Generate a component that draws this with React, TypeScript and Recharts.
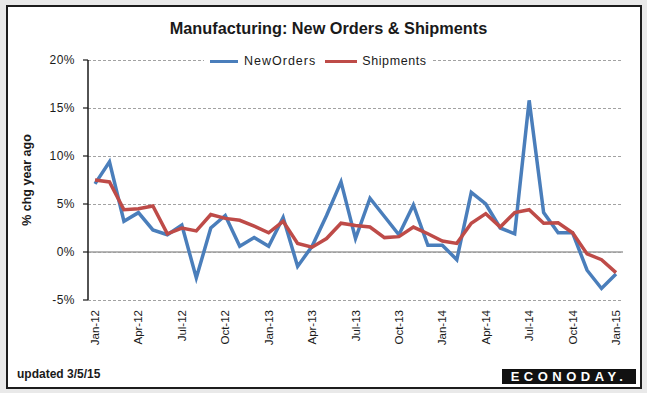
import React from "react";
import { LineChart, Line, XAxis, YAxis, CartesianGrid, ReferenceLine } from "recharts";

const months = [
  "Jan-12","Feb-12","Mar-12","Apr-12","May-12","Jun-12","Jul-12","Aug-12","Sep-12","Oct-12","Nov-12","Dec-12",
  "Jan-13","Feb-13","Mar-13","Apr-13","May-13","Jun-13","Jul-13","Aug-13","Sep-13","Oct-13","Nov-13","Dec-13",
  "Jan-14","Feb-14","Mar-14","Apr-14","May-14","Jun-14","Jul-14","Aug-14","Sep-14","Oct-14","Nov-14","Dec-14",
  "Jan-15",
];

const newOrders = [
  7.1, 9.4, 3.2, 4.1, 2.3, 1.8, 2.8, -2.7, 2.5, 3.8, 0.6, 1.5,
  0.6, 3.6, -1.5, 0.6, 3.8, 7.3, 1.4, 5.6, 3.7, 1.8, 4.9, 0.7,
  0.7, -0.8, 6.2, 5.0, 2.5, 1.9, 15.8, 4.1, 2.0, 2.0, -1.9, -3.8,
  -2.3,
];

const shipments = [
  7.5, 7.3, 4.4, 4.5, 4.8, 1.9, 2.5, 2.2, 3.9, 3.5, 3.3, 2.7,
  2.0, 3.2, 0.9, 0.5, 1.4, 3.0, 2.75, 2.6, 1.5, 1.6, 2.6, 1.9,
  1.15, 0.9, 3.0, 4.0, 2.6, 4.1, 4.4, 3.0, 3.05, 2.0, -0.2, -0.8,
  -2.15,
];

const yTicks = [-5, 0, 5, 10, 15, 20];

const data = months.map((m, i) => ({ month: m, NewOrders: newOrders[i], Shipments: shipments[i] }));

const BLUE = "#4a7ebb";
const RED = "#be4b48";
const FONT = "'Liberation Sans', Arial, sans-serif";

const XTick = (props: any) => {
  const { x, y, payload } = props;
  return (
    <g transform={`translate(${x},${y})`}>
      <text
        transform="rotate(-90)"
        x={-2}
        y={4}
        textAnchor="end"
        fontSize={11.5}
        fontFamily={FONT}
        fill="#1a1a1a"
      >
        {payload.value}
      </text>
    </g>
  );
};

const YTick = (props: any) => {
  const { x, y, payload } = props;
  return (
    <text x={x} y={y + 4} textAnchor="end" fontSize={12} fontFamily={FONT} fill="#1a1a1a" letterSpacing={0.5}>
      {`${payload.value}%`}
    </text>
  );
};

export default function App() {
  return (
    <div style={{ position: "absolute", left: 0, top: 0, width: 647, height: 393, background: "#e9e9e9", overflow: "hidden" }}>
      <div
        style={{
          position: "absolute",
          left: 6,
          top: 5,
          width: 632,
          height: 380,
          background: "#fff",
          border: "2px solid #1c1c1c",
        }}
      />
      <div
        style={{
          position: "absolute",
          left: 0,
          width: 647,
          top: 19,
          textAlign: "center",
          fontFamily: FONT,
          fontWeight: 700,
          fontSize: 16.3,
          color: "#1a1a1a",
          paddingLeft: 10,
          boxSizing: "border-box",
        }}
      >
        Manufacturing: New Orders &amp; Shipments
      </div>
      <div
        style={{
          position: "absolute",
          left: 27,
          top: 180,
          transform: "translate(-50%, -50%) rotate(-90deg)",
          whiteSpace: "nowrap",
          fontFamily: FONT,
          fontWeight: 700,
          fontSize: 12.5,
          color: "#1a1a1a",
        }}
      >
        % chg year ago
      </div>
      <div style={{ position: "absolute", left: 0, top: 0, width: 647, height: 393 }}>
        <LineChart width={647} height={393} data={data} margin={{ top: 60, right: 24, left: 0, bottom: 43 }}>
          <CartesianGrid vertical={false} stroke="#a2a2a2" strokeDasharray="3 2" shapeRendering="crispEdges" />
          <XAxis
            dataKey="month"
            interval={2}
            height={50}
            axisLine={false}
            tickLine={false}
            tick={<XTick />}
            padding={{ left: 7, right: 7 }}
          />
          <YAxis
            domain={[-5, 20]}
            ticks={yTicks}
            width={88}
            interval={0}
            axisLine={{ stroke: "#1a1a1a", strokeWidth: 1.5 }}
            tickLine={{ stroke: "#1a1a1a", strokeWidth: 1.2 }}
            tickSize={5}
            tickMargin={8}
            tick={<YTick />}
          />
          <ReferenceLine y={0} stroke="#9e9e9e" strokeWidth={1.3} />
          <Line type="linear" dataKey="NewOrders" stroke={BLUE} strokeWidth={3.5} dot={false} isAnimationActive={false} />
          <Line type="linear" dataKey="Shipments" stroke={RED} strokeWidth={3.5} dot={false} isAnimationActive={false} />
        </LineChart>
      </div>
      <div
        style={{
          position: "absolute",
          left: 204,
          top: 53,
          display: "flex",
          alignItems: "center",
          background: "#fff",
          padding: "0 6px",
          fontFamily: FONT,
          fontSize: 12.5,
          color: "#1a1a1a",
          height: 16,
        }}
      >
        <span style={{ display: "inline-block", width: 28, height: 3, background: BLUE, marginRight: 6 }} />
        <span style={{ marginRight: 9, letterSpacing: 1.0 }}>NewOrders</span>
        <span style={{ display: "inline-block", width: 32, height: 3, background: RED, marginRight: 5 }} />
        <span style={{ letterSpacing: 0.6 }}>Shipments</span>
      </div>
      <div
        style={{
          position: "absolute",
          left: 17,
          top: 367,
          fontFamily: FONT,
          fontWeight: 700,
          fontSize: 12,
          color: "#1a1a1a",
        }}
      >
        updated 3/5/15
      </div>
      <div
        style={{
          position: "absolute",
          left: 502,
          top: 369,
          width: 134,
          height: 15,
          background: "#111",
          color: "#fff",
          fontFamily: FONT,
          fontWeight: 700,
          fontSize: 13,
          letterSpacing: 4.5,
          lineHeight: "15px",
          textAlign: "center",
        }}
      >
        ECONODAY.
      </div>
    </div>
  );
}
